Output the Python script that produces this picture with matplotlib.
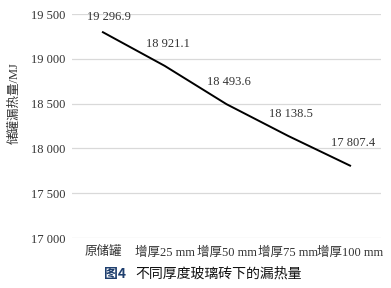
import matplotlib
matplotlib.use("Agg")
import matplotlib.pyplot as plt

categories = ["原储罐", "增厚25 mm", "增厚50 mm", "增厚75 mm", "增厚100 mm"]
values = [19296.9, 18921.1, 18493.6, 18138.5, 17807.4]
value_labels = ["19 296.9", "18 921.1", "18 493.6", "18 138.5", "17 807.4"]
yticks = [17000, 17500, 18000, 18500, 19000, 19500]
ytick_labels = ["17 000", "17 500", "18 000", "18 500", "19 000", "19 500"]

fam = ["Liberation Serif", "Noto Sans CJK SC"]
plt.rcParams['font.family'] = fam

fig = plt.figure(figsize=(3.91, 2.88), dpi=100)
ax = fig.add_axes([72/391, 1-238/288, 309/391, (238-14)/288])

x = list(range(len(categories)))
ax.plot(x, values, color="black", lw=1.4)
offsets = [(4, 11), (2, 16), (2, 16), (2, 16), (2, 16)]
for xi, v, lab, off in zip(x, values, value_labels, offsets):
    ax.annotate(lab, (xi, v), xytext=off, textcoords="offset points",
                ha="center", va="center", fontsize=9, color="#333333")

ax.set_xlim(-0.5, 4.5)
ax.set_ylim(17000, 19500)
ax.set_yticks(yticks)
ax.set_yticklabels(ytick_labels, fontsize=9, color="#333333")
ax.set_xticks(x)
ax.set_xticklabels(categories, fontsize=9, color="#333333")
ax.tick_params(length=0, pad=5)
ax.tick_params(axis="x", pad=6)
ax.yaxis.grid(True, color="#d9d9d9", lw=0.9)
ax.set_axisbelow(True)
for s in ax.spines.values():
    s.set_visible(False)
ax.set_ylabel("储罐漏热量/MJ", fontsize=9, color="#333333")
ax.yaxis.set_label_coords(-0.165, 0.6)

fig.text(104/391, 1-274/288, "图4", fontsize=10, fontweight="bold",
         color="#1f3f6e", family=["Noto Sans CJK SC", "DejaVu Sans"], va="center")
fig.text(135/391, 1-274/288, "不同厚度玻璃砖下的漏热量", fontsize=10,
         color="#111111", family=["Noto Sans CJK SC", "DejaVu Sans"], va="center")

fig.savefig("out.png", dpi=100)
